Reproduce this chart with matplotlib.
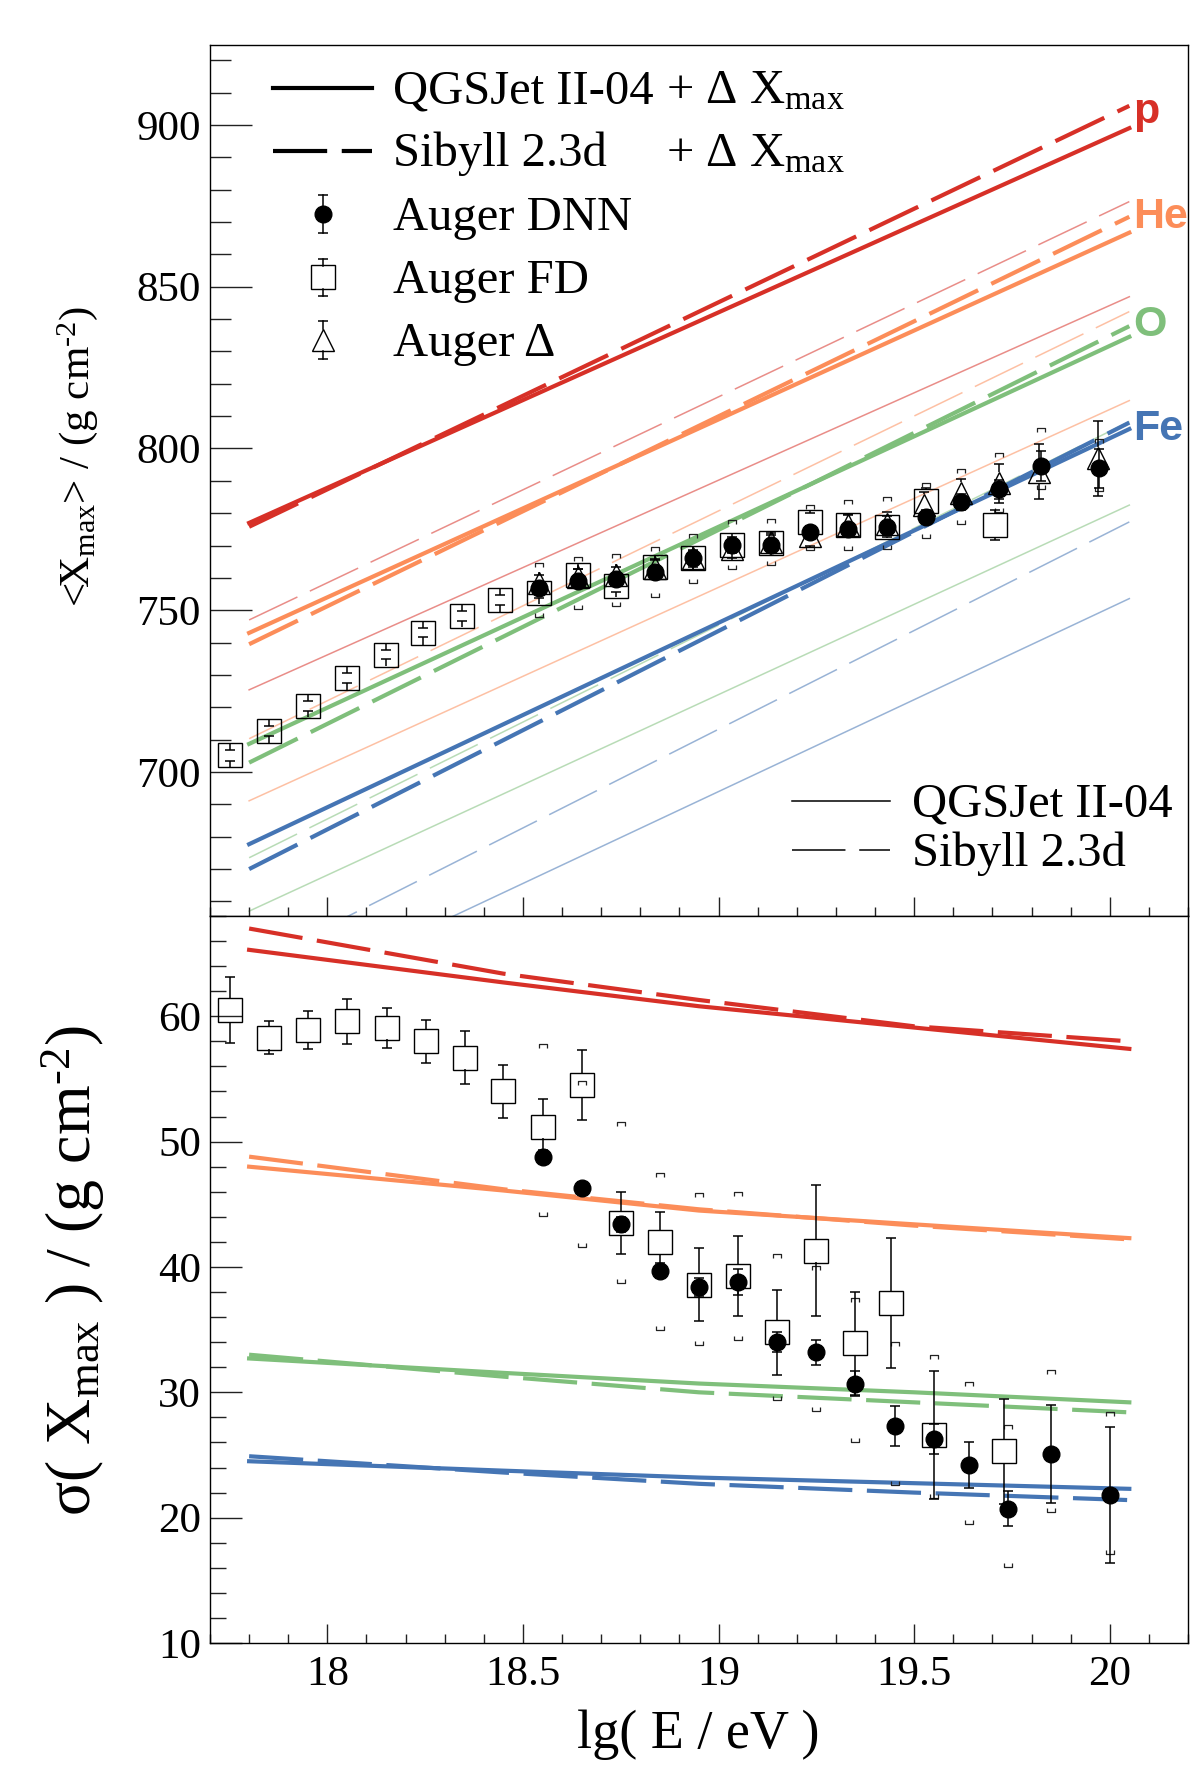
import matplotlib
matplotlib.use("Agg")
import matplotlib.pyplot as plt
import numpy as np
from matplotlib.path import Path
from matplotlib.ticker import MultipleLocator, FuncFormatter

plt.rcParams["font.family"] = ["Liberation Serif", "DejaVu Serif"]
plt.rcParams["mathtext.fontset"] = "custom"
plt.rcParams["mathtext.rm"] = "Liberation Serif"
plt.rcParams["mathtext.it"] = "Liberation Serif:italic"
plt.rcParams["mathtext.bf"] = "Liberation Serif:bold"

# ---------------------------------------------------------------- data
elements = ["p", "He", "O", "Fe"]
colors = ["#d73027", "#fc8d59", "#7fbf7b", "#4575b4"]
label_y = [904.0, 871.6, 838.2, 806.0]

# <Xmax> model lines (straight in lgE), values at line_x
line_x = [17.8, 20.05]
xmax_qgs_dx = [[777.0, 899.0], [743.0, 866.7], [708.7, 834.5], [677.7, 806.0]]
xmax_sib_dx = [[775.8, 905.9], [739.5, 871.6], [702.9, 837.8], [670.0, 808.0]]
xmax_qgs = [[725.4, 846.9], [691.1, 814.8], [657.0, 782.5], [625.8, 753.6]]
xmax_sib = [[747.0, 876.3], [710.3, 842.3], [673.5, 808.3], [640.0, 777.3]]

# sigma(Xmax) model lines, values at sig_x
sig_x = [17.8, 18.45, 18.95, 19.5, 20.05]
sig_qgs_dx = [[65.3, 62.7, 60.8, 59.1, 57.4],
              [48.0, 46.1, 44.5, 43.4, 42.3],
              [32.7, 31.55, 30.7, 30.0, 29.2],
              [24.5, 23.75, 23.2, 22.75, 22.3]]
sig_sib_dx = [[67.0, 63.4, 61.3, 59.2, 58.0],
              [48.8, 46.2, 44.6, 43.3, 42.2],
              [33.0, 31.25, 30.0, 29.2, 28.4],
              [24.9, 23.6, 22.7, 22.0, 21.4]]

# Auger FD, <Xmax>
fd_top_x = [17.75, 17.85, 17.95, 18.05, 18.15, 18.245, 18.344, 18.442, 18.541, 18.64,
            18.738, 18.837, 18.935, 19.034, 19.133, 19.233, 19.33, 19.43, 19.53, 19.706]
fd_top_y = [705.2, 712.6, 720.5, 729.0, 736.3, 743.0, 748.3, 753.2, 755.4, 760.8,
            757.6, 763.4, 766.1, 770.2, 770.8, 777.2, 776.4, 775.8, 783.9, 776.3]
fd_top_err = [1.7, 1.6, 1.5, 1.5, 1.4, 1.4, 1.5, 1.6, 1.7, 1.8,
              2.0, 2.0, 2.2, 2.4, 2.5, 2.8, 3.0, 3.3, 4.0, 4.7]

# Auger DNN, <Xmax>
dnn_top_x = [18.541, 18.64, 18.738, 18.837, 18.935, 19.034, 19.133, 19.233, 19.33,
             19.43, 19.53, 19.62, 19.716, 19.824, 19.973]
dnn_top_y = [757.0, 759.1, 759.6, 761.9, 766.0, 770.3, 770.3, 774.2, 775.0,
             775.6, 778.9, 783.4, 787.4, 794.6, 793.9]
dnn_top_err = [1.0, 1.0, 1.0, 1.0, 1.0, 1.2, 1.3, 1.4, 1.5, 1.8, 2.0, 2.5, 3.0, 4.5, 6.0]
dnn_top_sys_hi = [764.7, 766.5, 767.3, 769.6, 773.7, 778.0, 778.3, 782.5, 784.0,
                  785.0, 789.2, 793.8, 798.7, 806.2, 803.0]
dnn_top_sys_lo = [748.0, 750.3, 751.4, 754.2, 758.5, 762.6, 764.0, 768.5, 768.5,
                  768.8, 772.2, 776.6, 780.5, 787.4, 787.0]

# Auger Delta, <Xmax>
delta_x = [18.541, 18.64, 18.738, 18.837, 18.935, 19.034, 19.133, 19.233, 19.33,
           19.43, 19.525, 19.62, 19.716, 19.82, 19.97]
delta_y = [758.3, 760.3, 760.9, 763.2, 766.0, 768.8, 771.0, 773.0, 776.5,
           776.8, 782.5, 786.1, 789.2, 792.8, 796.9]
delta_err = [2.5, 2.5, 2.5, 2.5, 2.5, 2.7, 2.8, 3.0, 3.2, 3.5, 4.0, 4.5, 6.0, 8.5, 11.5]

# Auger FD, sigma(Xmax)
fd_bot_x = [17.752, 17.851, 17.951, 18.051, 18.152, 18.252, 18.351, 18.45, 18.551, 18.651,
            18.751, 18.851, 18.95, 19.05, 19.15, 19.25, 19.35, 19.44, 19.55, 19.73]
fd_bot_y = [60.5, 58.3, 58.9, 59.6, 59.1, 58.0, 56.7, 54.0, 51.2, 54.5,
            43.5, 42.0, 38.6, 39.3, 34.8, 41.3, 33.9, 37.1, 26.6, 25.3]
fd_bot_err = [2.6, 1.3, 1.5, 1.8, 1.6, 1.7, 2.1, 2.1, 2.2, 2.8,
              2.5, 2.4, 2.9, 3.2, 3.4, 5.2, 4.1, 5.2, 5.1, 4.2]

# Auger DNN, sigma(Xmax)
dnn_bot_x = [18.551, 18.651, 18.751, 18.851, 18.95, 19.05, 19.15, 19.25, 19.35,
             19.451, 19.55, 19.64, 19.74, 19.85, 20.0]
dnn_bot_y = [48.8, 46.3, 43.4, 39.7, 38.4, 38.8, 34.0, 33.2, 30.7,
             27.3, 26.3, 24.2, 20.7, 25.1, 21.8]
dnn_bot_err = [0.5, 0.5, 0.6, 0.6, 0.7, 1.0, 0.8, 1.0, 1.0, 1.6, 1.2, 1.8, 1.4, 3.9, 5.4]
dnn_bot_sys_hi = [57.8, 54.85, 51.6, 47.5, 45.9, 46.0, 41.0, 40.1, 37.5,
                  34.0, 33.0, 30.8, 27.4, 31.8, 28.4]
dnn_bot_sys_lo = [44.1, 41.6, 38.7, 35.0, 33.8, 34.2, 29.4, 28.5, 26.0,
                  22.6, 21.6, 19.5, 16.1, 20.45, 17.1]

# ---------------------------------------------------------------- style
W, H = 1191, 1773
TICK_FS = 31
LEG_FS = 35
THICK = 3.0
THIN = 1.1
DASH_THICK = [13, 3.5]
DASH_THIN = [35, 9]

BR_TOP = Path([(-1, -1), (-1, 0), (1, 0), (1, -1)],
              [Path.MOVETO, Path.LINETO, Path.LINETO, Path.LINETO])
BR_BOT = Path([(-1, 1), (-1, 0), (1, 0), (1, 1)],
              [Path.MOVETO, Path.LINETO, Path.LINETO, Path.LINETO])


def unit_per_pt(ax):
    fig = ax.figure
    h_px = ax.get_position().height * fig.get_figheight() * fig.dpi
    y0, y1 = ax.get_ylim()
    return (y1 - y0) / h_px * fig.dpi / 72.0


def root_errorbar(ax, x, y, err, half_pt, cap_pt=7.2, lw=1.1, z=4):
    """ROOT-like bars: drawn from the marker edge out to y +- err."""
    x = np.asarray(x, float)
    y = np.asarray(y, float)
    err = np.asarray(err, float)
    h = half_pt * unit_per_pt(ax)
    ax.vlines(x, y + h, y + err, colors="black", lw=lw, zorder=z)
    ax.vlines(x, y - h, y - err, colors="black", lw=lw, zorder=z)
    for yy in (y + err, y - err):
        ax.plot(x, yy, ls="none", marker="_", ms=cap_pt, mew=lw,
                color="black", zorder=z)


def sys_brackets(ax, x, hi, lo):
    ax.plot(x, hi, ls="none", marker=BR_TOP, ms=6.0, mew=0.9,
            mec="#222222", mfc="none", zorder=3)
    ax.plot(x, lo, ls="none", marker=BR_BOT, ms=6.0, mew=0.9,
            mec="#222222", mfc="none", zorder=3)


def style_axis(ax, ymaj, ymin, ylen):
    ax.yaxis.set_major_locator(MultipleLocator(ymaj))
    ax.yaxis.set_minor_locator(MultipleLocator(ymin))
    ax.xaxis.set_major_locator(MultipleLocator(0.5))
    ax.xaxis.set_minor_locator(MultipleLocator(0.1))
    ax.tick_params(axis="both", which="both", direction="in", top=False,
                   right=False, width=1.0, color="#222222",
                   labelsize=TICK_FS)
    ax.tick_params(axis="y", which="major", length=ylen, pad=6.5)
    ax.tick_params(axis="y", which="minor", length=ylen / 2)
    ax.tick_params(axis="x", which="major", length=14, pad=9)
    ax.tick_params(axis="x", which="minor", length=6.8)
    for sp in ax.spines.values():
        sp.set_linewidth(1.0)
    ax.xaxis.set_major_formatter(FuncFormatter(lambda v, p: f"{v:g}"))
    ax.yaxis.set_major_formatter(FuncFormatter(lambda v, p: f"{v:g}"))


fig = plt.figure(figsize=(W / 100, H / 100), dpi=100)
ax_top = fig.add_axes([210 / W, 1 - 916 / H, 978 / W, 871 / H])
ax_bot = fig.add_axes([210 / W, 1 - 1643 / H, 978 / W, 727 / H])

for ax in (ax_top, ax_bot):
    ax.set_xlim(17.7, 20.2)
ax_top.set_ylim(655.5, 924.7)
ax_bot.set_ylim(10, 68)
style_axis(ax_top, 50, 10, 30)
style_axis(ax_bot, 10, 2, 23)
ax_top.tick_params(labelbottom=False)

# ---------------------------------------------------------------- models
for i, el in enumerate(elements):
    c = colors[i]
    ax_top.plot(line_x, xmax_qgs[i], color=c, lw=THIN, alpha=0.55, zorder=1)
    ax_top.plot(line_x, xmax_sib[i], color=c, lw=THIN, alpha=0.55,
                dashes=DASH_THIN, zorder=1)
    ax_top.plot(line_x, xmax_qgs_dx[i], color=c, lw=THICK, zorder=2)
    ax_top.plot(line_x, xmax_sib_dx[i], color=c, lw=THICK,
                dashes=DASH_THICK, zorder=2)
    ax_top.text(20.06, label_y[i], el, color=c, fontsize=31,
                family="Liberation Sans", weight="bold", ha="left",
                va="center", clip_on=False)

    ax_bot.plot(sig_x, sig_qgs_dx[i], color=c, lw=THICK, zorder=2)
    ax_bot.plot(sig_x, sig_sib_dx[i], color=c, lw=THICK,
                dashes=DASH_THICK, zorder=2)

# ---------------------------------------------------------------- data points
SQ = 16.8   # square side, pt
TRI = 16.5
CIR = 12.0

# top panel
sys_brackets(ax_top, dnn_top_x, dnn_top_sys_hi, dnn_top_sys_lo)
root_errorbar(ax_top, fd_top_x, fd_top_y, fd_top_err, SQ / 2)
ax_top.plot(fd_top_x, fd_top_y, ls="none", marker="s", ms=SQ, mew=1.0,
            mec="black", mfc="none", zorder=5)
root_errorbar(ax_top, delta_x, delta_y, delta_err, TRI / 2)
ax_top.plot(delta_x, delta_y, ls="none", marker="^", ms=TRI, mew=1.0,
            mec="black", mfc="none", zorder=5)
root_errorbar(ax_top, dnn_top_x, dnn_top_y, dnn_top_err, 0)
ax_top.plot(dnn_top_x, dnn_top_y, ls="none", marker="o", ms=CIR,
            mec="black", mfc="black", zorder=6)

# bottom panel
sys_brackets(ax_bot, dnn_bot_x, dnn_bot_sys_hi, dnn_bot_sys_lo)
root_errorbar(ax_bot, fd_bot_x, fd_bot_y, fd_bot_err, SQ / 2)
ax_bot.plot(fd_bot_x, fd_bot_y, ls="none", marker="s", ms=SQ, mew=1.0,
            mec="black", mfc="none", zorder=5)
root_errorbar(ax_bot, dnn_bot_x, dnn_bot_y, dnn_bot_err, 0)
ax_bot.plot(dnn_bot_x, dnn_bot_y, ls="none", marker="o", ms=CIR,
            mec="black", mfc="black", zorder=6)

# ---------------------------------------------------------------- legends
def ax_y(py):
    return 1 - (py - 45) / 871


def ax_x(px):
    return (px - 210) / 978


T = ax_top.transAxes
rows = [88.3, 151.0, 214.0, 277.3, 340.0]
ax_top.plot([ax_x(273), ax_x(372)], [ax_y(rows[0])] * 2, color="black",
            lw=THICK, transform=T)
ax_top.plot([ax_x(273), ax_x(372)], [ax_y(rows[1])] * 2, color="black",
            lw=THICK, dashes=DASH_THICK, transform=T)
mx = ax_x(323)
for r, mk, fill, half in ((rows[2], "o", "black", 0),
                          (rows[3], "s", "none", 11.7),
                          (rows[4], "^", "none", 11.0)):
    e = 18.7 / 871
    hh = half / 871
    ax_top.plot([mx, mx], [ax_y(r) + hh, ax_y(r) + e], color="black", lw=1.1,
                transform=T)
    ax_top.plot([mx, mx], [ax_y(r) - hh, ax_y(r) - e], color="black", lw=1.1,
                transform=T)
    ax_top.plot([mx, mx], [ax_y(r) + e, ax_y(r) - e], ls="none", marker="_",
                ms=7.2, mew=1.1, color="black", transform=T)
    ax_top.plot([mx], [ax_y(r)], ls="none", marker=mk,
                ms={"o": CIR, "s": SQ, "^": TRI}[mk], mew=1.0, mec="black",
                mfc=fill, transform=T)

xmax_tag = r"+ Δ X$_{\rm max}$"
leg_texts = ["QGSJet II-04", "Sibyll 2.3d", "Auger DNN", "Auger FD", "Auger Δ"]
for r, t in zip(rows, leg_texts):
    ax_top.text(ax_x(393), ax_y(r + 15.5), t, fontsize=LEG_FS, transform=T,
                ha="left", va="baseline")
for r in rows[:2]:
    ax_top.text(ax_x(666), ax_y(r + 15.5), xmax_tag, fontsize=LEG_FS,
                transform=T, ha="left", va="baseline")

rows2 = [801.0, 850.0]
ax_top.plot([ax_x(792), ax_x(890)], [ax_y(rows2[0])] * 2, color="black",
            lw=THIN, transform=T)
ax_top.plot([ax_x(792), ax_x(890)], [ax_y(rows2[1])] * 2, color="black",
            lw=THIN, dashes=DASH_THIN, transform=T)
for r, t in zip(rows2, ["QGSJet II-04", "Sibyll 2.3d"]):
    ax_top.text(ax_x(912), ax_y(r + 15.5), t, fontsize=LEG_FS, transform=T,
                ha="left", va="baseline")

# ---------------------------------------------------------------- axis titles
fig.text(78 / W, 1 - 456 / H, r"<X$_{\rm max}$> / (g cm$^{\text{-2}}$)",
         rotation=90, ha="center", va="center", fontsize=31)
fig.text(73 / W, 1 - 1271 / H, r"σ( X$_{\rm max}$ ) / (g cm$^{\text{-2}}$)",
         rotation=90, ha="center", va="center", fontsize=46)
fig.text(698 / W, 1 - 1735 / H, "lg( E / eV )", ha="center", va="center",
         fontsize=39)

fig.savefig("out.png", dpi=100)
